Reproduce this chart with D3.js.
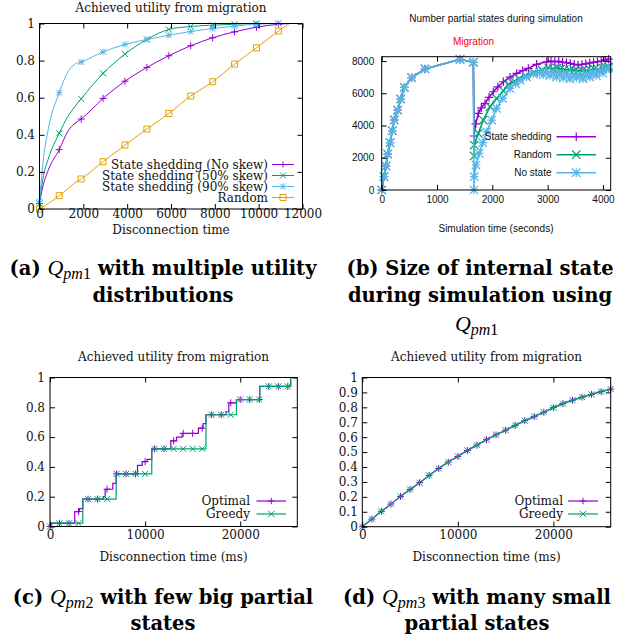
<!DOCTYPE html>
<html>
<head>
<meta charset="utf-8">
<title>Achieved utility from migration</title>
<script src="https://d3js.org/d3.v7.min.js"></script>
<style>
  body { margin: 0; background: #fff; }
</style>
</head>
<body>
<svg width="631" height="639"></svg>

<script>
// ---- (a) utility vs disconnection time, four distributions
var aX       = [0, 150, 400, 900, 1300, 1600, 1900, 2900, 3900, 4900, 5900, 6900, 7900, 8900, 9900, 10900, 11400];
var aNoSkew  = [0.03, 0.12, 0.21, 0.32, 0.42, 0.46, 0.485, 0.596, 0.689, 0.763, 0.826, 0.88, 0.923, 0.955, 0.98, 0.996, 1.0];
var aSkew50  = [0.03, 0.16, 0.27, 0.408, 0.50, 0.55, 0.594, 0.731, 0.835, 0.914, 0.968, 0.984, 0.991, 0.996, 1.0, 1.0, 1.0];
var aSkew90  = [0.04, 0.24, 0.43, 0.627, 0.74, 0.78, 0.792, 0.847, 0.887, 0.914, 0.937, 0.957, 0.973, 0.986, 0.996, 1.0, 1.0];
var aRandom  = [0, 0.01, 0.03, 0.072, 0.11, 0.14, 0.162, 0.255, 0.345, 0.431, 0.515, 0.609, 0.686, 0.781, 0.869, 0.959, 1.0];
var aMarkX   = [0, 900, 1900, 2900, 3900, 4900, 5900, 6900, 7900, 8900, 9900, 10900];
var aLabels  = ["State shedding (No skew)", "State shedding (50% skew)", "State shedding (90% skew)", "Random"];
var aXTicks  = [0, 2000, 4000, 6000, 8000, 10000, 12000];
var aYTicks  = [0, 0.2, 0.4, 0.6, 0.8, 1];

// ---- (b) number of partial states during simulation
var bPhase1T = [0, 41, 78, 108, 150, 192, 228, 289, 343, 409, 542, 783, 1416, 1657];
var bPhase1V = [0, 825, 1489, 2233, 2935, 3679, 4343, 4963, 5646, 6371, 6967, 7507, 8109, 7923];
var bShedT = [1669, 1700, 1747, 1800, 1868, 1940, 2018, 2100, 2199, 2320, 2440, 2550, 2651, 2800, 2983, 3060, 3130, 3200, 3270, 3340, 3410, 3480, 3550, 3620, 3690, 3760, 3830, 3900, 3970, 4040, 4100];
var bShedV = [3350, 4100, 4755, 5100, 5375, 5750, 6095, 6400, 6715, 7000, 7235, 7400, 7545, 7800, 7955, 7990, 7960, 7980, 7930, 7900, 7850, 7800, 7760, 7790, 7830, 7880, 7920, 7960, 8000, 8060, 8120];
var bRandT = [1669, 1672, 1747, 1837, 1958, 2078, 2200, 2289, 2400, 2482, 2600, 2750, 2900, 3018, 3100, 3170, 3235, 3300, 3400, 3480, 3550, 3630, 3705, 3780, 3850, 3920, 4000, 4060, 4100];
var bRandV = [2110, 2790, 3512, 4339, 5165, 5682, 6150, 6550, 6750, 6900, 7100, 7300, 7450, 7580, 7520, 7560, 7500, 7470, 7450, 7420, 7380, 7420, 7400, 7440, 7500, 7470, 7560, 7600, 7650];
var bNoneT = [1669, 1672, 1705, 1765, 1825, 1898, 1988, 2078, 2187, 2319, 2420, 2500, 2620, 2741, 2850, 2920, 2980, 3040, 3100, 3160, 3220, 3280, 3340, 3400, 3460, 3520, 3580, 3640, 3700, 3760, 3820, 3880, 3940, 4000, 4060, 4100];
var bNoneV = [0, 825, 1550, 2273, 2934, 3616, 4339, 5062, 5682, 6302, 6600, 6818, 7000, 7190, 7300, 7150, 7350, 7100, 7300, 7000, 7250, 6950, 7200, 6900, 7150, 6950, 7100, 6900, 7200, 7000, 7300, 7100, 7400, 7250, 7500, 7550];
var bLabels = ["State shedding", "Random", "No state"];
var bXTicks = [0, 1000, 2000, 3000, 4000];
var bYTicks = [0, 2000, 4000, 6000, 8000];

// ---- (c) few big partial states (step functions)
var cOptX = [0, 150, 2600, 3100, 3450, 5600, 5800, 6600, 6950, 9200, 9700, 10200, 10700, 12700, 13300, 13900, 15600, 16100, 16400, 18500, 18800, 19600, 22050, 25300, 26000];
var cOptY = [0, 0.022, 0.1, 0.12, 0.184, 0.2, 0.25, 0.29, 0.353, 0.41, 0.435, 0.45, 0.521, 0.575, 0.6, 0.625, 0.66, 0.69, 0.75, 0.77, 0.83, 0.852, 0.94, 1.0, 1.0];
var cGreX = [0, 150, 3450, 6950, 10700, 16400, 19600, 22050, 25300, 26000];
var cGreY = [0, 0.022, 0.184, 0.353, 0.521, 0.75, 0.852, 0.94, 1.0, 1.0];
var cMarkX = [0, 1000, 2000, 3000, 4000, 5000, 6000, 7000, 8000, 9000, 10000, 11000, 12000, 13000,
              14000, 15000, 16000, 17000, 18000, 19000, 20000, 21000, 22000, 23000, 24000, 25000];

// ---- (d) many small partial states
var dX = [0, 1000, 2000, 3000, 4000, 5000, 6000, 7000, 8000, 9000, 10000, 11000, 12000, 13000,
          14000, 15000, 16000, 17000, 18000, 19000, 20000, 21000, 22000, 23000, 24000, 25000, 26000];
var dOptimal = [0, 0.051, 0.103, 0.152, 0.203, 0.25, 0.295, 0.344, 0.39, 0.433, 0.471, 0.511, 0.547, 0.583,
                0.616, 0.647, 0.679, 0.71, 0.738, 0.767, 0.798, 0.825, 0.848, 0.868, 0.887, 0.905, 0.922];
var dGreedy  = [0, 0.051, 0.103, 0.152, 0.203, 0.25, 0.295, 0.344, 0.39, 0.433, 0.471, 0.511, 0.547, 0.583,
                0.616, 0.647, 0.679, 0.71, 0.738, 0.767, 0.798, 0.825, 0.848, 0.868, 0.887, 0.905, 0.922];
var cdLabels = ["Optimal", "Greedy"];
var cdXTicks = [0, 10000, 20000];
var cYTicks = [0, 0.2, 0.4, 0.6, 0.8, 1];
var dYTicks = [0, 0.1, 0.2, 0.3, 0.4, 0.5, 0.6, 0.7, 0.8, 0.9, 1];

var SERIF = "DejaVu Serif", SANS = "Liberation Sans";
var purple = "#9400d3", green = "#009e73", blue = "#56b4e9", orange = "#e69f00";

var svg = d3.select("svg");

// gnuplot point types
function symbol(type, s) {
  var plus = "M" + (-s) + ",0H" + s + "M0," + (-s) + "V" + s;
  var cross = "M" + (-s) + "," + (-s) + "L" + s + "," + s + "M" + (-s) + "," + s + "L" + s + "," + (-s);
  if (type == "plus") return plus;
  if (type == "cross") return cross;
  if (type == "star") return plus + cross;
  return "M" + (-s) + "," + (-s) + "H" + s + "V" + s + "H" + (-s) + "Z";   // open square
}

// border box with inward ticks on all four sides
function frame(g, x, y, o) {
  var xr = x.range(), yr = y.range();
  var tick = o.tick || 5;

  var bottom = g.append("g").attr("transform", "translate(0," + yr[0] + ")")
      .call(d3.axisBottom(x).tickValues(o.xTicks).tickSize(-tick).tickSizeOuter(0).tickPadding(o.xPad).tickFormat(o.xFmt));
  var left = g.append("g").attr("transform", "translate(" + xr[0] + ",0)")
      .call(d3.axisLeft(y).tickValues(o.yTicks).tickSize(-tick).tickSizeOuter(0).tickPadding(o.yPad).tickFormat(o.yFmt));
  g.append("g").attr("transform", "translate(0," + yr[1] + ")")
      .call(d3.axisTop(x).tickValues(o.xTicks).tickSize(-tick).tickSizeOuter(0).tickFormat(""));
  g.append("g").attr("transform", "translate(" + xr[1] + ",0)")
      .call(d3.axisRight(y).tickValues(o.yTicks).tickSize(-tick).tickSizeOuter(0).tickFormat(""));

  g.selectAll(".domain").remove();
  g.selectAll(".tick line").attr("stroke", "#000");
  [bottom, left].forEach(function (a) {
    a.attr("font-family", o.font).attr("font-size", o.size);
    a.selectAll("text").attr("fill", "#111");
  });

  g.append("rect")
    .attr("x", xr[0]).attr("y", yr[1])
    .attr("width", xr[1] - xr[0]).attr("height", yr[0] - yr[1])
    .attr("fill", "none").attr("stroke", "#000").attr("stroke-width", 1);
}

function label(g, txt, x, y, o) {
  g.append("text").attr("x", x).attr("y", y)
    .attr("text-anchor", "middle").attr("dominant-baseline", "central")
    .attr("font-family", o.font).attr("font-size", o.size)
    .attr("fill", o.color || "#111").text(txt);
}

function series(g, x, y, xs, ys, o) {
  var pts = xs.map(function (v, i) { return [v, ys[i]]; });
  var line = d3.line().x(function (d) { return x(d[0]); }).y(function (d) { return y(d[1]); })
      .curve(o.curve || d3.curveLinear);
  g.append("path").attr("d", line(pts))
    .attr("fill", "none").attr("stroke", o.color).attr("stroke-width", o.width);
  var marks = o.marks ? o.marks : pts;
  g.selectAll(null).data(marks).enter().append("path")
    .attr("transform", function (d) { return "translate(" + x(d[0]) + "," + y(d[1]) + ")"; })
    .attr("d", symbol(o.type, o.ms))
    .attr("fill", "none").attr("stroke", o.color).attr("stroke-width", o.mw || 1);
}

function legend(g, items, o) {
  items.forEach(function (it, i) {
    var yy = o.y + i * o.dy;
    g.append("text").attr("x", o.tx).attr("y", yy)
      .attr("text-anchor", "end").attr("dominant-baseline", "central")
      .attr("font-family", o.font).attr("font-size", o.size).attr("fill", "#111")
      .text(it.label);
    g.append("line").attr("x1", o.x1).attr("x2", o.x2).attr("y1", yy).attr("y2", yy)
      .attr("stroke", it.color).attr("stroke-width", o.width);
    g.append("path").attr("transform", "translate(" + ((o.x1 + o.x2) / 2) + "," + yy + ")")
      .attr("d", symbol(it.type, o.ms)).attr("fill", "none")
      .attr("stroke", it.color).attr("stroke-width", o.mw || 1);
  });
}

function pick(xs, ys, keep) {
  var out = [];
  xs.forEach(function (v, i) { if (keep.indexOf(v) >= 0) out.push([v, ys[i]]); });
  return out;
}

function stepAt(xs, ys, v) {
  var i = d3.bisectRight(xs, v) - 1;
  return ys[Math.max(i, 0)];
}

var fmtY = function (d) { return d == 0 ? "0" : d == 1 ? "1" : d3.format(".1f")(d); };

// ================= (a)
var ga = svg.append("g");
var xa = d3.scaleLinear().domain([0, 12000]).range([39.5, 302.5]);
var ya = d3.scaleLinear().domain([0, 1]).range([209, 23.5]);
var serif12 = { font: SERIF, size: 12 };

label(ga, "Achieved utility from migration", 171, 7.5, serif12);
[
  { ys: aNoSkew, color: purple, type: "plus", ms: 3.5 },
  { ys: aSkew50, color: green, type: "cross", ms: 3 },
  { ys: aSkew90, color: blue, type: "star", ms: 3 },
  { ys: aRandom, color: orange, type: "square", ms: 3 }
].forEach(function (s) {
  series(ga, xa, ya, aX, s.ys, { color: s.color, width: 1, type: s.type, ms: s.ms,
    curve: d3.curveMonotoneX, marks: pick(aX, s.ys, aMarkX) });
});
frame(ga, xa, ya, { xTicks: aXTicks, yTicks: aYTicks, xFmt: d3.format("d"), yFmt: fmtY,
  xPad: 0.5, yPad: 4.5, font: SERIF, size: 12 });
label(ga, "Disconnection time", 171, 230, serif12);
legend(ga, [
  { label: aLabels[0], color: purple, type: "plus" },
  { label: aLabels[1], color: green, type: "cross" },
  { label: aLabels[2], color: blue, type: "star" },
  { label: aLabels[3], color: orange, type: "square" }
], { tx: 268, x1: 272, x2: 294, y: 164.5, dy: 11, font: SERIF, size: 12, width: 1, ms: 3 });

// ================= (b)
var gb = svg.append("g");
var xb = d3.scaleLinear().domain([0, 4140]).range([381.7, 610.7]);
var yb = d3.scaleLinear().domain([0, 8270]).range([190, 56.7]);
var sans = { font: SANS, size: 10 };

label(gb, "Number partial states during simulation", 496, 18.5, sans);
label(gb, "Migration", 473.5, 41.7, { font: SANS, size: 10, color: "#ff0000" });
[
  { t: bShedT, v: bShedV, color: purple, type: "plus" },
  { t: bRandT, v: bRandV, color: green, type: "cross" },
  { t: bNoneT, v: bNoneV, color: blue, type: "star" }
].forEach(function (s) {
  series(gb, xb, yb, bPhase1T.concat(s.t), bPhase1V.concat(s.v),
    { color: s.color, width: 1.6, type: s.type, ms: 4.2, mw: 1.2 });
});
frame(gb, xb, yb, { xTicks: bXTicks, yTicks: bYTicks, xFmt: d3.format("d"), yFmt: d3.format("d"),
  xPad: 6, yPad: 7.5, font: SANS, size: 10 });
label(gb, "Simulation time (seconds)", 496, 228, sans);
legend(gb, [
  { label: bLabels[0], color: purple, type: "plus" },
  { label: bLabels[1], color: green, type: "cross" },
  { label: bLabels[2], color: blue, type: "star" }
], { tx: 551.5, x1: 556.5, x2: 596, y: 136.7, dy: 18, font: SANS, size: 10, width: 1.6, ms: 4.2, mw: 1.2 });

// ================= (c)
var gc = svg.append("g");
var xc = d3.scaleLinear().domain([0, 26000]).range([50, 297.3]);
var yc = d3.scaleLinear().domain([0, 1]).range([526.5, 377.5]);

label(gc, "Achieved utility from migration", 173.5, 357, serif12);
series(gc, xc, yc, cOptX, cOptY, { color: purple, width: 1.2, type: "plus", ms: 3.5, curve: d3.curveStepAfter,
  marks: cMarkX.map(function (v) { return [v, stepAt(cOptX, cOptY, v)]; }) });
series(gc, xc, yc, cGreX, cGreY, { color: green, width: 1.2, type: "cross", ms: 3, curve: d3.curveStepAfter,
  marks: cMarkX.map(function (v) { return [v, stepAt(cGreX, cGreY, v)]; }) });
frame(gc, xc, yc, { xTicks: cdXTicks, yTicks: cYTicks, xFmt: d3.format("d"), yFmt: fmtY,
  xPad: 4, yPad: 5, font: SERIF, size: 12 });
label(gc, "Disconnection time (ms)", 173.5, 557, serif12);
legend(gc, [
  { label: cdLabels[0], color: purple, type: "plus" },
  { label: cdLabels[1], color: green, type: "cross" }
], { tx: 250, x1: 256.5, x2: 286, y: 501, dy: 13, font: SERIF, size: 12, width: 1.2, ms: 3.2 });

// ================= (d)
var gd = svg.append("g");
var xd = d3.scaleLinear().domain([0, 26000]).range([362.3, 610.7]);
var yd = d3.scaleLinear().domain([0, 1]).range([526.7, 377.5]);

label(gd, "Achieved utility from migration", 486.5, 357, serif12);
series(gd, xd, yd, dX, dOptimal, { color: purple, width: 1.2, type: "plus", ms: 3.5, curve: d3.curveMonotoneX });
series(gd, xd, yd, dX, dGreedy, { color: green, width: 1.2, type: "cross", ms: 3, curve: d3.curveMonotoneX });
frame(gd, xd, yd, { xTicks: cdXTicks, yTicks: dYTicks, xFmt: d3.format("d"), yFmt: fmtY,
  xPad: 4, yPad: 4.5, font: SERIF, size: 12 });
label(gd, "Disconnection time (ms)", 486.5, 557, serif12);
legend(gd, [
  { label: cdLabels[0], color: purple, type: "plus" },
  { label: cdLabels[1], color: green, type: "cross" }
], { tx: 563, x1: 568, x2: 598, y: 501, dy: 13, font: SERIF, size: 12, width: 1.2, ms: 3.2 });

// ================= sub-figure captions
function caption(x, y, parts) {
  var t = svg.append("text").attr("x", x).attr("y", y).attr("text-anchor", "middle")
      .attr("font-family", SERIF).attr("font-weight", "bold").attr("font-size", 19.5).attr("fill", "#000");
  parts.forEach(function (p) {
    if (typeof p == "string") { t.append("tspan").text(p); return; }
    // math Q with subscript pm + digit
    t.append("tspan").attr("font-family", "Liberation Serif").attr("font-style", "italic")
      .attr("font-weight", "normal").attr("font-size", 22).text("Q");
    t.append("tspan").attr("font-family", "Liberation Serif").attr("font-style", "italic")
      .attr("font-weight", "normal").attr("font-size", 16).attr("dy", 4).text("pm");
    t.append("tspan").attr("font-family", "Liberation Serif").attr("font-weight", "normal")
      .attr("font-size", 16).text(p.sub);
    t.append("tspan").attr("dy", -4).text("\u00a0");
  });
}

caption(163, 275, ["(a) ", { sub: "1" }, "with multiple utility"]);
caption(163, 302, ["distributions"]);
caption(480, 275, ["(b) Size of internal state"]);
caption(480, 302, ["during simulation using"]);
caption(480, 331, [{ sub: "1" }]);
caption(163, 604, ["(c) ", { sub: "2" }, "with few big partial"]);
caption(163, 630, ["states"]);
caption(477, 604, ["(d) ", { sub: "3" }, "with many small"]);
caption(477, 630, ["partial states"]);
</script>
</body>
</html>
